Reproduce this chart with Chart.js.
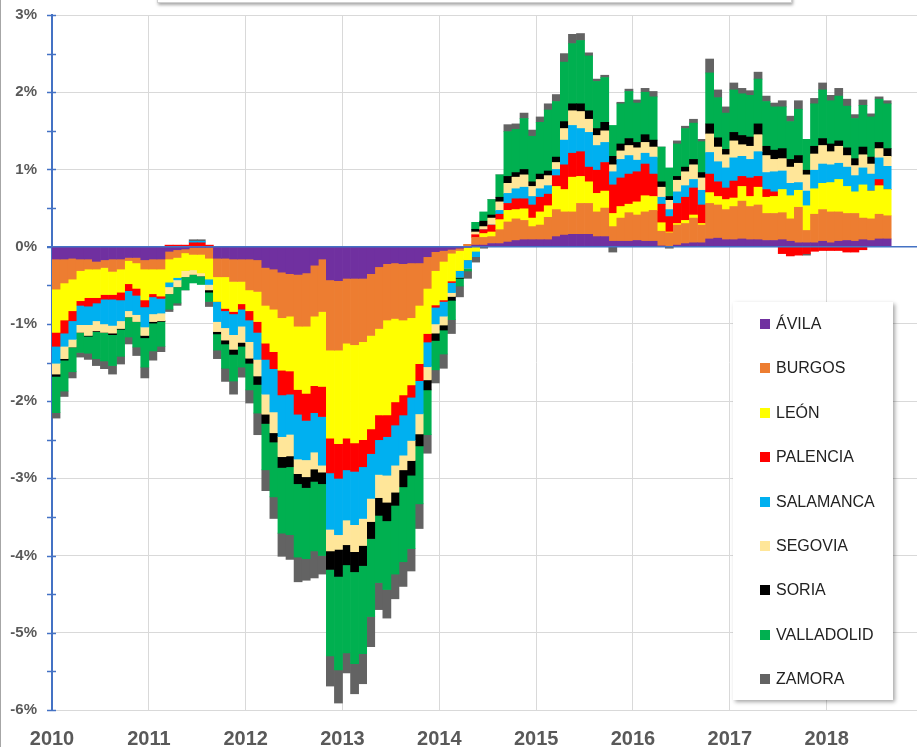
<!DOCTYPE html>
<html>
<head>
<meta charset="utf-8">
<script src="https://cdn.jsdelivr.net/npm/chart.js@4.4.1/dist/chart.umd.min.js"></script>
<style>
  html, body { margin: 0; padding: 0; background: #ffffff; }
  #wrap { position: relative; width: 917px; height: 747px; overflow: hidden; background: #fff; }
  #c { position: absolute; left: 0; top: 0; }
  #frame { position: absolute; left: 0; top: 0; width: 1px; height: 747px; background: #a6a6a6; }
  #topbox { position: absolute; left: 157px; top: -14px; width: 633px; height: 15px; background: #fff;
            border: 1px solid #d0d0d0; box-shadow: 1px 2px 3px rgba(0,0,0,0.35); }
  #legend { position: absolute; left: 733px; top: 302px; width: 160px; height: 398px; background: #fff;
            box-shadow: 2px 2px 4px rgba(0,0,0,0.35); font-family: "Liberation Sans", Arial, sans-serif; }
  .item { position: absolute; left: 27px; height: 20px; line-height: 20px; font-size: 16px; color: #222; white-space: nowrap; }
  .sw { position: absolute; left: 0; top: 5px; width: 10px; height: 10px; }
  .lbl { position: absolute; left: 16px; top: 0; }
</style>
</head>
<body>
<div id="wrap">
  <canvas id="c" width="917" height="747"></canvas>
  <div id="frame"></div>
  <div id="topbox"></div>
  <div id="legend"></div>
</div>
<script>
// ---- data (% contribution by province, monthly Jan 2010 - Aug 2018) ----
const years = ['2010','2011','2012','2013','2014','2015','2016','2017','2018'];
const provinces = ['ÁVILA','BURGOS','LEÓN','PALENCIA','SALAMANCA','SEGOVIA','SORIA','VALLADOLID','ZAMORA'];
const colors = ['#7030A0','#ED7D31','#FFFF00','#FF0000','#00B0F0','#FFE699','#000000','#00B050','#636363'];

const avila = [
 -.16,-.16,-.15,-.16,-.16,-.19,-.17,-.16,-.16,-.14,-.14,-.17,
 -.16,-.16,-.06,-.04,-.03,-.01,-.01,-.01,-.15,-.15,-.16,-.16,
 -.16,-.17,-.27,-.29,-.33,-.35,-.36,-.34,-.24,-.16,-.43,-.44,
 -.41,-.41,-.41,-.35,-.26,-.22,-.21,-.22,-.21,-.21,-.13,-.065,
 -.05,-.035,-.02,-.01,.02,.02,.04,.04,.06,.08,.09,.09,
 .09,.09,.13,.15,.16,.16,.16,.13,.13,.07,.07,.07,
 .08,.07,.07,.01,0,.02,.04,.05,.05,.10,.11,.09,
 .09,.10,.09,.09,.08,.08,.09,.07,.05,.05,.05,.07,
 .05,.07,.08,.07,.09,.08,.10,.10];
const burgos = [
 -.39,-.31,-.27,-.15,-.13,-.10,-.10,-.16,-.13,-.04,-.07,-.12,
 -.13,-.13,-.10,-.10,-.05,-.09,-.09,-.14,-.24,-.24,-.29,-.29,
 -.40,-.41,-.49,-.52,-.59,-.55,-.67,-.69,-.66,-.68,-.91,-.90,
 -.84,-.86,-.82,-.80,-.80,-.73,-.72,-.73,-.71,-.55,-.41,-.245,
 -.14,-.05,-.03,.03,.10,.10,.09,.18,.26,.28,.25,.17,
 .19,.29,.35,.30,.29,.40,.40,.32,.37,.19,.30,.37,
 .33,.38,.40,.19,.18,.26,.26,.32,.23,.46,.43,.39,
 .43,.49,.43,.45,.35,.35,.35,.29,.46,.16,.37,.41,
 .40,.38,.35,.36,.28,.28,.32,.30];
const leon = [
 -.56,-.48,-.41,-.39,-.37,-.37,-.35,-.30,-.30,-.30,-.33,-.40,
 -.32,-.35,-.30,-.26,-.23,-.20,-.24,-.27,-.32,-.41,-.39,-.29,
 -.27,-.39,-.49,-.55,-.68,-.71,-.82,-.87,-.90,-.97,-1.14,-1.21,
 -1.23,-1.27,-1.27,-1.21,-1.12,-1.23,-1.08,-.97,-.87,-.755,-.585,-.445,
 -.50,-.36,-.26,-.16,-.06,.05,.06,.13,.15,.12,.15,.11,
 .17,.15,.30,.29,.45,.35,.28,.24,.22,.17,.15,.11,
 .17,.21,.18,.11,.01,.02,.04,.04,.02,.14,.11,.13,
 .11,.19,.13,.23,.21,.22,.30,.30,.22,.32,.33,.34,
 .38,.42,.35,.28,.43,.36,.37,.34];
const palencia = [
 -.18,-.17,-.13,-.06,-.11,-.07,-.06,-.06,-.10,-.09,-.09,-.09,
 -.04,-.03,.02,.02,.02,.05,.05,.02,0,-.03,-.03,-.07,
 -.12,-.14,-.21,-.22,-.32,-.30,-.32,-.35,-.35,-.39,-.45,-.45,
 -.41,-.37,-.35,-.32,-.32,-.28,-.30,-.26,-.16,-.22,-.11,-.03,
 -.02,-.02,0,0,.035,.05,.09,.07,.09,.14,.13,.17,
 .19,.15,.14,.32,.31,.32,.19,.30,.37,.37,.37,.39,
 .39,.41,.29,.24,.20,.26,.30,.35,.24,.24,.19,.15,
 .22,.13,.24,.14,.10,.06,-.09,-.12,-.11,-.09,-.06,-.05,
 -.05,-.05,-.07,-.07,-.04,0,.08,0];
const salamanca = [
 -.22,-.17,-.24,-.25,-.24,-.23,-.32,-.34,-.27,-.26,-.25,-.26,
 -.22,-.19,-.06,-.03,0,.02,.02,-.07,-.26,-.22,-.27,-.22,
 -.28,-.35,-.45,-.56,-.54,-.52,-.58,-.51,-.51,-.63,-.73,-.73,
 -.65,-.69,-.67,-.58,-.45,-.50,-.52,-.52,-.56,-.43,-.32,-.215,
 -.19,-.13,-.085,-.11,-.07,0,0,.05,.13,.13,.15,.11,
 .11,.11,.08,.32,.36,.30,.45,.32,.26,.17,.24,.24,
 .15,.14,.22,.09,.09,.15,.15,.11,.19,.28,.26,.26,
 .30,.26,.24,.32,.22,.26,.24,.16,.10,.19,.24,.25,
 .23,.21,.25,.21,.22,.22,.28,.30];
const segovia = [
 -.14,-.16,-.10,-.10,-.14,-.13,-.11,-.10,-.10,-.08,-.09,-.11,
 -.10,-.10,-.09,-.09,-.08,-.06,-.04,-.07,-.13,-.16,-.19,-.21,
 -.215,-.215,-.26,-.27,-.26,-.28,-.19,-.22,-.22,-.09,-.28,-.19,
 -.32,-.35,-.35,-.30,-.30,-.35,-.35,-.19,-.26,-.26,-.17,-.12,
 -.115,-.05,0,0,.035,.04,.09,.11,.13,.15,.16,.13,
 .12,.13,.09,.15,.19,.22,.17,.13,.15,.09,.11,.13,
 .16,.14,.13,.13,.12,.15,.18,.19,.16,.24,.19,.17,
 .22,.15,.17,.22,.22,.16,.16,.21,.25,.21,.21,.24,
 .17,.22,.15,.13,.17,.13,.12,.13];
const soria = [
 -.03,-.02,0,0,-.01,-.01,0,-.02,-.01,0,0,-.03,
 -.02,-.01,0,0,0,0,0,-.03,-.03,-.05,-.065,-.05,
 -.065,-.11,-.12,-.12,-.14,-.14,-.13,-.14,-.16,-.15,-.24,-.35,
 -.26,-.26,-.26,-.22,-.23,-.24,-.17,-.22,-.19,-.155,-.13,-.095,
 -.065,-.05,-.015,0,.035,.07,.04,.06,.09,.06,.07,.06,
 .07,.06,.07,.09,.09,.10,.11,.09,.11,.11,.09,.09,
 .07,.10,.09,.07,.05,.05,.06,.07,.07,.13,.12,.07,
 .11,.12,.12,.14,.12,.12,.13,.10,.10,.06,.10,.09,
 .10,.07,.10,.09,.10,.09,.08,.10];
const valladolid = [
 -.47,-.40,-.32,-.26,-.22,-.35,-.37,-.40,-.35,-.26,-.33,-.38,
 -.36,-.32,-.20,-.21,-.17,-.11,-.11,-.12,-.21,-.315,-.345,-.27,
 -.345,-.37,-.60,-.71,-.85,-.88,-.95,-.92,-.90,-.93,-1.12,-1.21,
 -1.14,-1.19,-1.14,-1.01,-.87,-.89,-.89,-.97,-.95,-.75,-.58,-.38,
 -.31,-.25,-.10,-.035,.09,.12,.20,.29,.58,.56,.66,.59,
 .67,.79,.72,.77,.78,.82,.71,.61,.58,.40,.52,.61,
 .51,.55,.56,.45,.37,.42,.50,.47,.40,.66,.52,.47,
 .55,.54,.54,.58,.58,.56,.54,.49,.60,.40,.55,.63,
 .56,.58,.54,.52,.54,.52,.56,.58];
const zamora = [
 -.07,-.07,-.08,-.06,-.08,-.09,-.10,-.11,-.10,-.09,-.11,-.14,
 -.12,-.07,-.03,-.03,0,.02,.02,-.065,-.11,-.17,-.17,-.13,
 -.17,-.28,-.27,-.28,-.30,-.32,-.32,-.28,-.35,-.24,-.39,-.43,
 -.26,-.39,-.39,-.39,-.35,-.37,-.32,-.32,-.29,-.32,-.24,-.17,
 -.185,-.18,-.14,-.095,-.07,-.02,0,0,.09,.07,.07,.08,
 .07,.08,.09,.11,.12,.09,.04,.03,.03,-.07,.02,.03,
 .04,.05,.07,0,-.02,.04,.03,.05,.03,.18,.10,.08,
 .09,.07,.06,.09,.07,.05,.08,.07,.11,-.02,.07,.09,
 .07,.10,.09,.05,.07,.04,.03,.04];

const seriesValues = [avila, burgos, leon, palencia, salamanca, segovia, soria, valladolid, zamora];
const monthsPerYear = 12;

// ---- build chart ----
const datasets = provinces.map((name, k) => ({
  label: name,
  data: seriesValues[k].map((v, i) => ({ x: i + 0.5, y: v })),
  backgroundColor: colors[k],
  borderWidth: 0,
  barPercentage: 1,
  categoryPercentage: 1
}));

const axisBlue = '#4472C4';
const overlay = {
  id: 'overlay',
  beforeDatasetsDraw(chart) {
    const { ctx, chartArea, scales } = chart;
    ctx.save();
    ctx.strokeStyle = axisBlue;
    ctx.lineWidth = 1.5;
    for (let v = -6; v <= 3; v += 0.5) {
      const y = Math.round(scales.y.getPixelForValue(v)) + 0.5;
      ctx.beginPath();
      ctx.moveTo(chartArea.left - 5, y);
      ctx.lineTo(chartArea.left + 4, y);
      ctx.stroke();
    }
    ctx.restore();
  },
  afterDatasetsDraw(chart) {
    const { ctx, chartArea, scales } = chart;
    const y0 = scales.y.getPixelForValue(0);
    ctx.save();
    ctx.strokeStyle = axisBlue;
    ctx.lineWidth = 1.5;
    ctx.beginPath();
    ctx.moveTo(chartArea.left - 5, y0);
    ctx.lineTo(chartArea.right, y0);
    ctx.stroke();
    ctx.restore();
  }
};

new Chart(document.getElementById('c'), {
  type: 'bar',
  data: { datasets },
  plugins: [overlay],
  options: {
    responsive: false,
    animation: false,
    devicePixelRatio: 1,
    layout: { padding: { top: 15, right: 0, bottom: 0, left: 0 } },
    plugins: { legend: { display: false }, tooltip: { enabled: false }, title: { display: false } },
    scales: {
      x: {
        type: 'linear',
        stacked: true,
        min: 0,
        max: 107.2,
        offset: false,
        afterBuildTicks: axis => { axis.ticks = years.map((y, i) => ({ value: i * monthsPerYear })); },
        afterFit: s => { s.height = 37; s.paddingLeft = 0; s.paddingRight = 0; },
        grid: { color: '#d9d9d9', lineWidth: 1, drawTicks: false, offset: false },
        border: { display: false },
        ticks: {
          autoSkip: false, maxRotation: 0, padding: 17,
          color: '#595959',
          font: { family: 'Liberation Sans, Arial, sans-serif', size: 20, weight: 'bold' },
          callback: (v, i) => years[i]
        }
      },
      y: {
        stacked: true,
        min: -6,
        max: 3,
        afterFit: s => { s.width = 52; s.paddingTop = 0; s.paddingBottom = 0; },
        grid: {
          drawTicks: false,
          lineWidth: 1,
          color: c => (c.tick && Number.isInteger(c.tick.value)) ? '#d9d9d9' : 'rgba(0,0,0,0)'
        },
        border: { color: axisBlue, width: 2 },
        ticks: {
          stepSize: 0.5,
          autoSkip: false,
          padding: 15,
          color: '#595959',
          font: { family: 'Liberation Sans, Arial, sans-serif', size: 15, weight: 'bold' },
          callback: v => Number.isInteger(v) ? v + '%' : ''
        }
      }
    }
  }
});

// ---- legend (HTML, built from the same arrays) ----
const legend = document.getElementById('legend');
provinces.forEach((name, k) => {
  const it = document.createElement('div');
  it.className = 'item';
  it.style.top = (12 + k * 44.4) + 'px';
  const sw = document.createElement('span');
  sw.className = 'sw';
  sw.style.background = colors[k];
  const lb = document.createElement('span');
  lb.className = 'lbl';
  lb.textContent = name;
  it.appendChild(sw); it.appendChild(lb);
  legend.appendChild(it);
});
</script>
</body>
</html>
